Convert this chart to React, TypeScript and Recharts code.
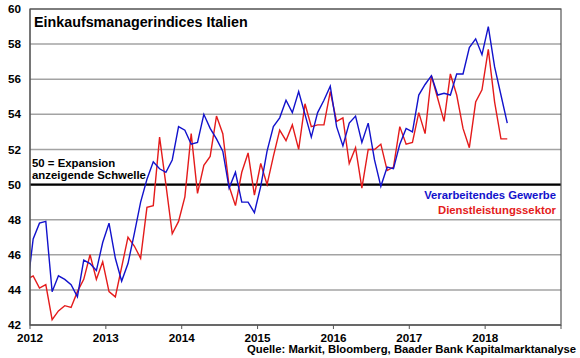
import React from "react";
import {
  LineChart,
  Line,
  XAxis,
  YAxis,
  CartesianGrid,
  ReferenceLine,
} from "recharts";

// monthly PMI values, Dec 2011 .. Apr 2018
const firstMonth = { year: 2011, month: 11 }; // December 2011 (0-based month)

const manufacturing = [
  43.9,
  46.9, 47.8, 47.9, 43.9, 44.8, 44.6, 44.3, 43.6, 45.7, 45.5, 45.1, 46.7,
  47.8, 45.8, 44.5, 45.5, 47.2, 49.0, 50.3, 51.3, 50.9, 50.7, 51.4, 53.3,
  53.1, 52.3, 52.4, 54.0, 53.2, 52.6, 51.9, 49.8, 50.7, 49.0, 49.0, 48.4,
  49.9, 51.9, 53.3, 53.8, 54.8, 54.1, 55.3, 54.0, 52.7, 54.1, 54.8, 55.6,
  53.3, 52.2, 53.5, 53.9, 52.4, 53.5, 51.4, 49.9, 51.0, 50.9, 52.3, 53.2,
  53.0, 55.1, 55.7, 56.2, 55.1, 55.2, 55.1, 56.3, 56.3, 57.8, 58.3, 57.4,
  59.0, 56.7, 55.1, 53.5,
];

const services = [
  44.6,
  44.8, 44.1, 44.3, 42.3, 42.8, 43.1, 43.0, 43.9, 44.6, 46.0, 44.6, 45.6,
  43.9, 43.6, 45.3, 47.0, 46.5, 45.8, 48.7, 48.8, 52.7, 50.0, 47.2, 47.9,
  49.3, 52.9, 49.5, 51.1, 51.6, 53.9, 52.9, 49.9, 48.8, 50.7, 51.8, 49.4,
  51.2, 50.0, 51.6, 53.1, 52.5, 53.4, 52.0, 54.6, 53.3, 53.4, 53.4, 55.3,
  53.6, 53.8, 51.2, 52.1, 49.8, 52.0, 52.0, 52.3, 50.8, 51.0, 53.3, 52.3,
  52.4, 54.1, 52.9, 56.2, 54.9, 53.6, 56.3, 55.1, 53.2, 52.1, 54.7, 55.4,
  57.7, 54.7, 52.6, 52.6,
];

const yearTicks = [2012, 2013, 2014, 2015, 2016, 2017, 2018, 2019];
const yearLabels = ["2012", "2013", "2014", "2015", "2016", "2017", "2018", ""];
const valueTicks = [42, 44, 46, 48, 50, 52, 54, 56, 58, 60];

const title = "Einkaufsmanagerindices Italien";
const thresholdNote = ["50 = Expansion", "anzeigende Schwelle"];
const seriesNames = ["Verarbeitendes Gewerbe", "Dienstleistungssektor"];
const source = "Quelle: Markit, Bloomberg, Baader Bank Kapitalmarktanalyse";

const BLUE = "#1212cc";
const RED = "#e41b1b";
const FONT = "'Liberation Sans', Arial, sans-serif";

// each month is plotted in the middle of its month
const data = manufacturing.map((v, i) => {
  const m = firstMonth.month + i;
  const year = firstMonth.year + Math.floor(m / 12);
  return {
    t: year + ((m % 12) + 0.5) / 12,
    manu: v,
    serv: services[i],
  };
});

const W = 580;
const H = 358;
const margin = { top: 9, right: 19, bottom: 3, left: 0 };
const plotLeft = 30;
const plotTop = 9;
const plotRight = W - margin.right;
const plotBottom = 325;

export default function App() {
  const tickStyle = { fontSize: 11.7, fontWeight: 700, fill: "#000", fontFamily: FONT };
  const textStyle = { fontWeight: 700, fontFamily: FONT };
  return (
    <div style={{ position: "absolute", left: 0, top: 0, width: W, height: H, background: "#fff" }}>
      <LineChart width={W} height={H} data={data} margin={margin}>
        <CartesianGrid horizontal vertical={false} stroke="#a3a3a3" strokeWidth={1.5} />
        <XAxis
          type="number"
          dataKey="t"
          domain={[2012, 2019]}
          ticks={yearTicks}
          tickFormatter={(v) => yearLabels[yearTicks.indexOf(v)] ?? ""}
          allowDataOverflow
          height={30}
          tickSize={4}
          tickMargin={5}
          stroke="#555"
          tick={tickStyle}
          interval={0}
        />
        <YAxis
          type="number"
          domain={[42, 60]}
          ticks={valueTicks}
          width={30}
          tickLine={false}
          tickMargin={3}
          stroke="#555"
          tick={tickStyle}
          interval={0}
        />
        <ReferenceLine y={50} stroke="#000" strokeWidth={2.2} />
        <Line
          type="linear"
          dataKey="serv"
          stroke={RED}
          strokeWidth={1.4}
          dot={false}
          isAnimationActive={false}
        />
        <Line
          type="linear"
          dataKey="manu"
          stroke={BLUE}
          strokeWidth={1.4}
          dot={false}
          isAnimationActive={false}
        />
      </LineChart>
      <svg
        width={W}
        height={H}
        style={{ position: "absolute", left: 0, top: 0, pointerEvents: "none" }}
      >
        <rect
          x={plotLeft}
          y={plotTop}
          width={plotRight - plotLeft}
          height={plotBottom - plotTop}
          fill="none"
          stroke="#555"
          strokeWidth={1.2}
        />
        <text x={34} y={26.5} fontSize={14.3} style={textStyle} fill="#000">
          {title}
        </text>
        <text x={32} y={166.5} fontSize={11.4} style={textStyle} fill="#000">
          {thresholdNote[0]}
        </text>
        <text x={32} y={178.5} fontSize={11.4} style={textStyle} fill="#000">
          {thresholdNote[1]}
        </text>
        <text x={556} y={199.3} fontSize={11.3} textAnchor="end" style={textStyle} fill={BLUE}>
          {seriesNames[0]}
        </text>
        <text x={556} y={214.3} fontSize={11.3} textAnchor="end" style={textStyle} fill={RED}>
          {seriesNames[1]}
        </text>
        <text x={576} y={353} fontSize={11.3} textAnchor="end" style={textStyle} fill="#000">
          {source}
        </text>
      </svg>
    </div>
  );
}
